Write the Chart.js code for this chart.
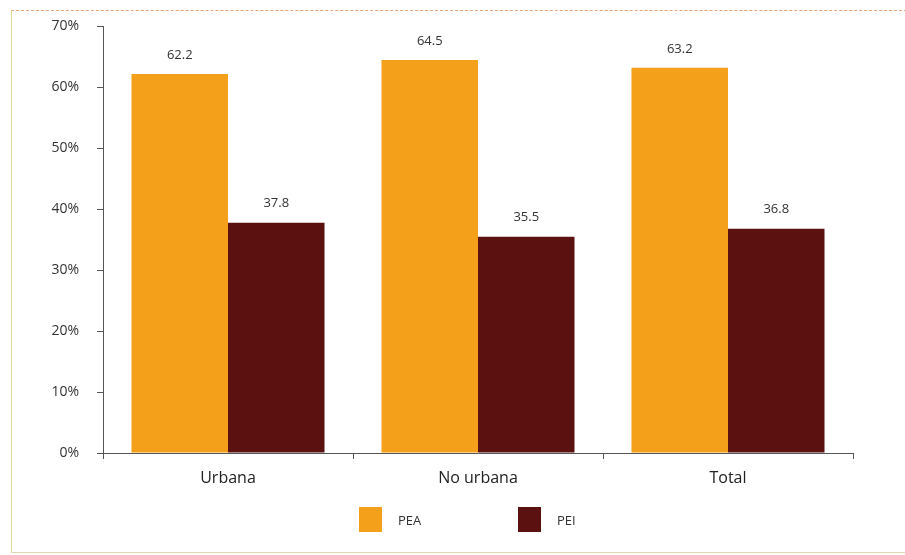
<!DOCTYPE html>
<html>
<head>
<meta charset="utf-8">
<script src="https://cdn.jsdelivr.net/npm/chart.js@4"></script>
<style>
  html, body { margin: 0; padding: 0; background: #fff; }
  #wrap { position: relative; width: 905px; height: 555px; }
  #frame {
    position: absolute; left: 11px; top: 10px; width: 900px; height: 541px;
    border-left: 1px solid #e2d99a; border-bottom: 1px solid #ddd8b0;
    border-top: 1px dashed #e4a277; pointer-events: none;
  }
  #legend {
    position: absolute; left: 359px; top: 507px; display: flex;
    font: 13px 'Open Sans', 'Noto Sans', sans-serif; color: #333;
  }
  #legend .item { display: flex; align-items: center; width: 159px; }
  #legend .box { width: 23px; height: 25px; margin-right: 16px; }
</style>
</head>
<body>
<div id="wrap">
  <canvas id="chart" width="905" height="555"></canvas>
  <div id="legend"></div>
  <div id="frame"></div>
</div>
<script>
const categories = ['Urbana', 'No urbana', 'Total'];
const peaValues = [62.2, 64.5, 63.2];
const peiValues = [37.8, 35.5, 36.8];
const seriesNames = ['PEA', 'PEI'];
const yTicks = [0, 10, 20, 30, 40, 50, 60, 70];

const FONT = "'Open Sans', 'Noto Sans', sans-serif";

// values written above each bar
const valueLabels = {
  id: 'valueLabels',
  afterDatasetsDraw(chart) {
    const ctx = chart.ctx;
    ctx.save();
    ctx.font = '13px ' + FONT;
    ctx.fillStyle = '#333';
    ctx.textAlign = 'center';
    ctx.textBaseline = 'middle';
    chart.data.datasets.forEach((ds, i) => {
      chart.getDatasetMeta(i).data.forEach((bar, j) => {
        ctx.fillText(ds.data[j].toFixed(1), bar.x, bar.y - 19);
      });
    });
    ctx.restore();
  }
};

// legend as html, spaced like the original
const htmlLegend = {
  id: 'htmlLegend',
  afterUpdate(chart) {
    const el = document.getElementById('legend');
    el.innerHTML = '';
    chart.data.datasets.forEach(ds => {
      const item = document.createElement('div');
      item.className = 'item';
      const box = document.createElement('span');
      box.className = 'box';
      box.style.background = ds.backgroundColor;
      item.appendChild(box);
      item.appendChild(document.createTextNode(ds.label));
      el.appendChild(item);
    });
  }
};

new Chart(document.getElementById('chart').getContext('2d'), {
  type: 'bar',
  data: {
    labels: categories,
    datasets: [
      { label: seriesNames[0], data: peaValues, backgroundColor: '#f5a01b' },
      { label: seriesNames[1], data: peiValues, backgroundColor: '#5c1111' }
    ]
  },
  options: {
    responsive: false,
    animation: false,
    categoryPercentage: 0.772,
    barPercentage: 1.0,
    layout: { padding: { left: 39, right: 52, top: 16, bottom: 58 } },
    plugins: {
      legend: { display: false },
      tooltip: { enabled: false }
    },
    scales: {
      x: {
        grid: { display: true, drawOnChartArea: false, tickLength: 6, color: '#555' },
        border: { color: '#555' },
        ticks: { color: '#222', padding: 10, font: { family: FONT, size: 16 } },
        afterFit(scale) { scale.height = 44; }
      },
      y: {
        min: 0, max: 70,
        afterBuildTicks(scale) { scale.ticks = yTicks.map(v => ({ value: v })); },
        grid: { display: true, drawOnChartArea: false, tickLength: 6, color: '#555' },
        border: { color: '#555' },
        ticks: {
          color: '#333', padding: 18, font: { family: FONT, size: 14 },
          callback: v => v + '%'
        },
        afterFit(scale) { scale.width = 64; }
      }
    }
  },
  plugins: [valueLabels, htmlLegend]
});
</script>
</body>
</html>
